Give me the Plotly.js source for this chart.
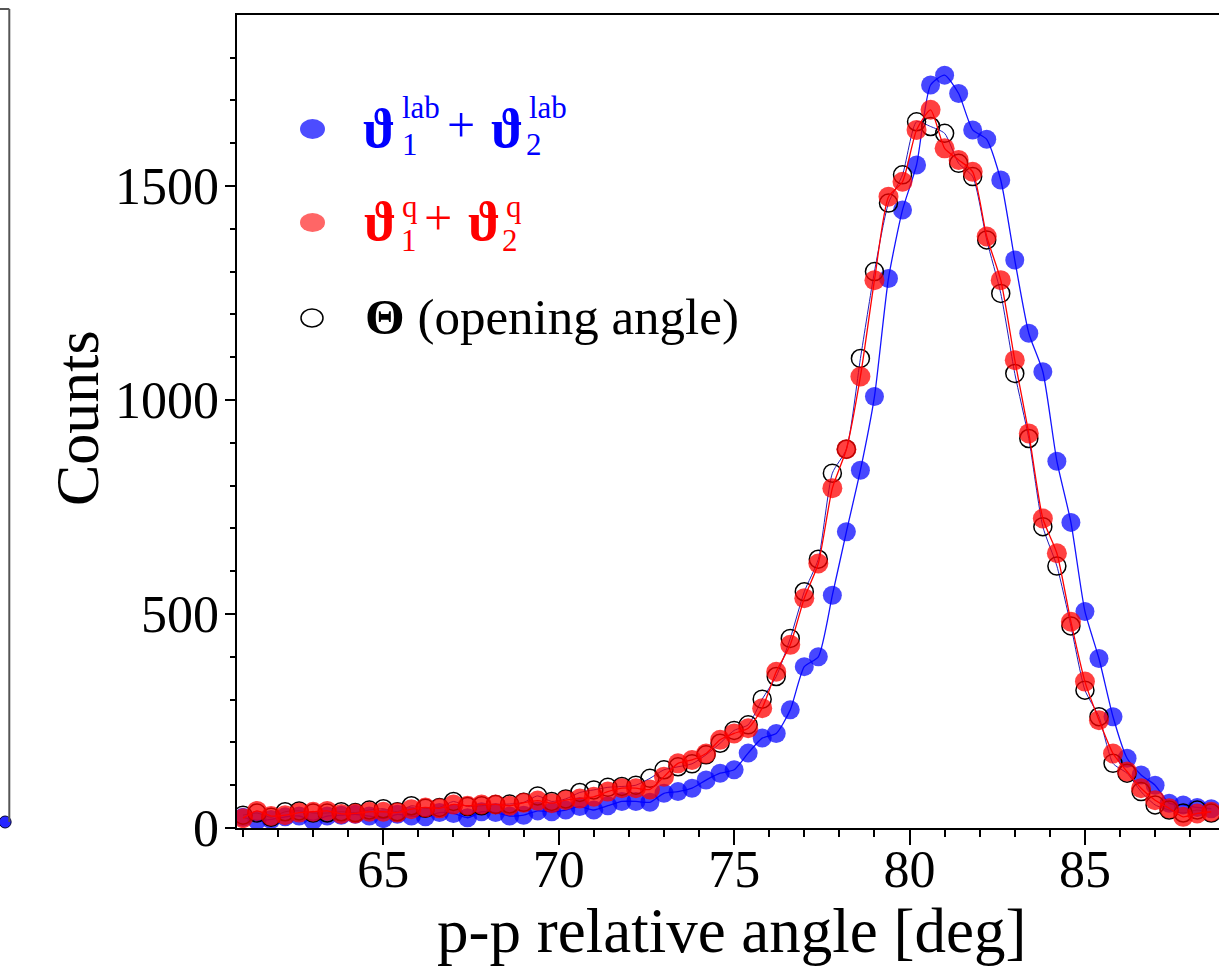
<!DOCTYPE html>
<html>
<head>
<meta charset="utf-8">
<script src="https://cdn.plot.ly/plotly-3.0.1.min.js"></script>
<style>
html,body{margin:0;padding:0;overflow:hidden;background:#fff;}
#chart{width:1240px;height:974px;}
</style>
</head>
<body>
<div id="chart"></div>
<script>
// bin centres [deg]
const angle = [61.0,61.4,61.8,62.2,62.6,63.0,63.4,63.8,64.2,64.6,
  65.0,65.4,65.8,66.2,66.6,67.0,67.4,67.8,68.2,68.6,
  69.0,69.4,69.8,70.2,70.6,71.0,71.4,71.8,72.2,72.6,
  73.0,73.4,73.8,74.2,74.6,75.0,75.4,75.8,76.2,76.6,
  77.0,77.4,77.8,78.2,78.6,79.0,79.4,79.8,80.2,80.6,
  81.0,81.4,81.8,82.2,82.6,83.0,83.4,83.8,84.2,84.6,
  85.0,85.4,85.8,86.2,86.6,87.0,87.4,87.8,88.2,88.6];

// theta1_lab + theta2_lab (blue)
const labSum = [25,18,20,26,28,18,28,30,32,28,
  22,32,28,26,36,34,24,38,36,28,
  30,40,38,42,50,42,52,62,62,60,
  81,85,93,112,128,136,175,210,221,276,
  377,400,544,692,836,1008,1284,1444,1549,1736,
  1759,1716,1631,1609,1514,1327,1156,1066,857,714,
  506,396,260,163,124,100,58,54,48,45];

// theta1_q + theta2_q (red)
const qSum = [23,40,28,30,36,38,40,33,34,38,
  38,36,44,48,46,55,52,55,55,52,
  59,64,58,65,69,73,85,93,93,90,
  120,151,159,174,206,221,233,280,365,428,
  537,618,794,885,1055,1280,1475,1510,1631,1678,
  1588,1561,1533,1382,1280,1093,922,723,642,482,
  342,252,174,132,93,65,46,26,34,38];

// Theta (opening angle) (open black)
const opening = [30,35,25,38,40,35,35,38,36,42,
  45,38,52,46,48,62,50,52,55,56,
  60,75,62,68,83,89,95,97,100,116,
  136,143,150,171,198,228,241,301,354,443,
  552,628,829,885,1097,1300,1460,1526,1650,1639,
  1623,1553,1522,1374,1249,1062,910,704,612,472,
  322,260,151,128,85,54,42,35,42,35];

// neighbouring (cut-off) panel on the left: its last visible point
const leftPanelX = [0.55];
const leftPanelY = [0];

const xTickVals = [65,70,75,80,85];
const yTickVals = [0,500,1000,1500];
const xTitle = 'p-p relative angle [deg]';
const yTitle = 'Counts';

const FONT = '"Liberation Serif","Times New Roman",serif';
const W = 1240, H = 974, T = 9, B = 146;
const plotH = H - T - B;
const X = p => p / W;
const Y = p => (H - B - p) / plotH;

const traces = [
  {x: angle, y: labSum, type:'scatter', mode:'lines+markers', name:'lab',
   line:{color:'rgb(20,20,255)', width:1.3, shape:'spline', smoothing:0.6},
   marker:{color:'rgba(0,0,255,0.72)', size:19}},
  {x: angle, y: opening, type:'scatter', mode:'lines+markers', name:'Theta',
   line:{color:'rgb(30,30,190)', width:1, shape:'spline', smoothing:0.6},
   marker:{symbol:'circle-open', color:'#000', size:18, line:{width:1.5, color:'#000'}}},
  {x: angle, y: qSum, type:'scatter', mode:'lines+markers', name:'q',
   line:{color:'rgb(255,0,0)', width:1.3, shape:'spline', smoothing:0.6},
   marker:{color:'rgba(255,0,0,0.75)', size:20}},
  {x: leftPanelX, y: leftPanelY, xaxis:'x2', yaxis:'y2', type:'scatter', mode:'markers',
   marker:{color:'rgba(0,0,255,0.85)', size:12, line:{color:'#003', width:1}}, cliponaxis:false}
];

const ann = [];
function txt(s, left, cy, size, color, extra){
  ann.push(Object.assign({text:s, xref:'paper', yref:'paper', x:X(left), y:Y(cy),
    xanchor:'left', yanchor:'middle', showarrow:false, borderpad:0,
    font:{family:FONT, size:size, color:color}}, extra||{}));
}
const BL = '#0000ff', RD = '#ff0000';
// row 1
txt('<b>ϑ</b>', 362, 129, 54, BL);
txt('lab', 401, 107, 31, BL);
txt('1', 401, 145, 31, BL);
txt('+', 446, 125, 50, BL);
txt('<b>ϑ</b>', 490, 129, 54, BL);
txt('lab', 528, 107, 31, BL);
txt('2', 525, 145, 31, BL);
// row 2
txt('<b>ϑ</b>', 363, 222, 54, RD);
txt('q', 401, 206, 31, RD);
txt('1', 400, 240, 31, RD);
txt('+', 423, 218, 50, RD);
txt('<b>ϑ</b>', 467, 222, 54, RD);
txt('q', 505, 206, 31, RD);
txt('2', 501, 240, 31, RD);
// row 3
txt('<b>Θ</b> (opening angle)', 364, 317, 51, '#000');
// axis titles
ann.push({text:xTitle, xref:'paper', yref:'paper', x:X(731), y:Y(931), xanchor:'center', yanchor:'middle',
  showarrow:false, font:{family:FONT, size:63, color:'#000'}});
ann.push({text:yTitle, xref:'paper', yref:'paper', x:X(77), y:Y(418), xanchor:'center', yanchor:'middle',
  textangle:-90, showarrow:false, font:{family:FONT, size:62, color:'#000'}});

const shapes = [
  // legend glyphs
  {type:'circle', xref:'paper', yref:'paper', x0:X(300), x1:X(325), y0:Y(139), y1:Y(119),
   fillcolor:'rgba(0,0,255,0.7)', line:{width:0}},
  {type:'circle', xref:'paper', yref:'paper', x0:X(300), x1:X(325), y0:Y(232), y1:Y(213),
   fillcolor:'rgba(255,0,0,0.6)', line:{width:0}},
  {type:'circle', xref:'paper', yref:'paper', x0:X(301), x1:X(323), y0:Y(327), y1:Y(309),
   fillcolor:'rgba(0,0,0,0)', line:{width:1.5, color:'#000'}},
  // frame of the neighbouring panel
  {type:'line', xref:'x2 domain', yref:'y2 domain', x0:1, x1:1, y0:0, y1:1, line:{color:'#555', width:2}},
  {type:'line', xref:'x2 domain', yref:'y2 domain', x0:-0.2, x1:1, y0:1, y1:1, line:{color:'#555', width:2}}
];

const layout = {
  width:W, height:H,
  margin:{l:0, r:0, t:T, b:B, pad:0},
  paper_bgcolor:'#fff', plot_bgcolor:'#fff',
  showlegend:false,
  font:{family:FONT, color:'#000'},
  xaxis:{domain:[X(236.5), 1], range:[60.815, 89.42], tickvals:xTickVals,
    ticks:'outside', ticklen:15, tickwidth:2, tickcolor:'#000', ticklabelstandoff:-20,
    minor:{dtick:1, tick0:61, ticks:'outside', ticklen:7, tickwidth:2, tickcolor:'#000', showgrid:false},
    showline:true, linecolor:'#000', linewidth:2, mirror:true,
    showgrid:false, zeroline:false,
    tickfont:{family:FONT, size:52, color:'#000'}},
  yaxis:{domain:[0, Y(15)], range:[0, 1899.5], tickvals:yTickVals,
    ticks:'outside', ticklen:10, tickwidth:2, tickcolor:'#000', ticklabelstandoff:-5,
    minor:{dtick:100, ticks:'outside', ticklen:5, tickwidth:2, tickcolor:'#000', showgrid:false},
    showline:true, linecolor:'#000', linewidth:2, mirror:true,
    showgrid:false, zeroline:false,
    tickfont:{family:FONT, size:52, color:'#000'}},
  xaxis2:{domain:[0, X(9.3)], range:[0,1], visible:false, anchor:'y2'},
  yaxis2:{domain:[Y(822), 1], range:[0,1], visible:false, anchor:'x2'},
  annotations:ann,
  shapes:shapes
};

Plotly.newPlot('chart', traces, layout, {displayModeBar:false, staticPlot:true});
</script>
</body>
</html>
